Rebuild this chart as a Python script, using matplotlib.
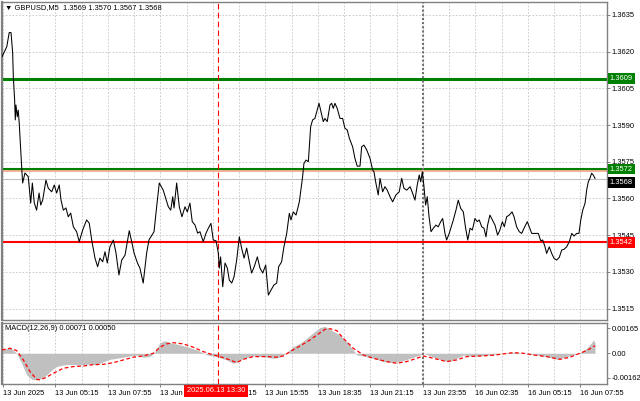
import numpy as np
import matplotlib.pyplot as plt
from matplotlib.transforms import blended_transform_factory

plt.rcParams['font.family'] = ['Liberation Sans', 'DejaVu Sans']
FS = 5.4

# close prices, x = bar number (M5 bars from the left edge)
price_bar = [
    -0.6, 2.3, 3.8, 4.9, 5.9, 6.3, 7.1, 7.5, 7.9, 8.7, 9.3, 9.9, 10.8, 11.6, 12.0, 13.4, 15.4,
    16.9, 17.9, 19.1, 20.5, 22.0, 23.0, 24.2, 26.2, 27.6, 29.7, 31.3, 32.7, 34.3, 35.4, 36.8,
    38.4, 39.8, 41.3, 42.9, 44.9, 46.5, 48.6, 51.0, 52.6, 54.1, 56.1, 57.7, 59.1, 60.8, 62.2,
    63.6, 65.2, 67.3, 68.9, 70.7, 72.4, 74.4, 77.0, 78.5, 79.9, 82.0, 83.5, 85.5, 87.6, 89.0,
    92.1, 93.7, 95.3, 97.7, 100.8, 102.3, 103.5, 104.3, 105.9, 107.5, 109.1, 111.0, 112.4,
    114.0, 115.4, 117.1, 118.7, 120.1, 122.1, 123.8, 125.2, 126.8, 128.2, 129.9, 131.3, 131.9,
    132.7, 134.0, 135.4, 136.8, 138.0, 139.5, 140.9, 142.5, 144.1, 145.5, 147.0, 148.6, 150.0,
    151.6, 153.2, 155.1, 156.7, 158.4, 160.2, 161.8, 163.4, 165.2, 166.9, 168.1, 169.9, 171.3,
    173.0, 174.6, 175.6, 177.0, 178.7, 180.7,
    182.7, 183.5, 184.8, 186.2, 187.6, 188.8, 190.2, 191.6, 192.7, 193.9, 195.3, 196.3, 197.7,
    199.4, 200.4, 201.4, 202.4, 203.8, 205.5, 207.1, 208.5, 209.9, 211.2, 213.2, 214.6, 216.0,
    217.7, 218.7, 220.1, 221.8, 223.8, 225.4, 226.2, 227.4, 228.8, 229.9, 231.5, 232.9, 234.3,
    236.0, 237.6, 239.6, 241.6, 243.1, 244.5, 246.2, 248.2, 249.8, 251.2, 252.6, 253.8, 254.7,
    255.7, 256.7, 257.7, 258.7, 259.8, 261.0, 262.4, 264.0, 265.4, 266.9, 268.1, 269.5, 270.5,
    272.1,
    274.6, 276.2, 277.6, 279.1, 280.7, 282.1, 283.4, 284.8, 286.2, 287.8, 289.2, 290.4, 291.9,
    293.3, 294.5, 295.5, 296.9, 298.4, 300.0, 301.6, 303.0, 304.5, 305.7, 307.1, 308.7, 310.4,
    311.6, 313.2, 314.8, 316.3, 317.7, 319.7, 320.9, 322.4, 324.4, 326.4, 327.9, 329.1, 330.5,
    331.5, 333.1, 334.6, 336.0, 337.6, 339.2, 340.7, 342.1, 343.7, 345.3, 346.8, 348.2, 349.8,
    351.2, 352.3, 353.5, 354.9, 355.9, 356.9, 357.9, 358.9, 359.9, 361.0,
]
price_close = [
    1.36179, 1.36220, 1.36278, 1.36278, 1.36195, 1.36098, 1.36002, 1.35921, 1.35982, 1.35934,
    1.35961, 1.35908, 1.35798, 1.35704, 1.35663, 1.35704, 1.35689, 1.35581, 1.35663, 1.35581,
    1.35552, 1.35622, 1.35573, 1.35593, 1.35675, 1.35642, 1.35627, 1.35655, 1.35622, 1.35655,
    1.35593, 1.35552, 1.35561, 1.35525, 1.35540, 1.35484, 1.35464, 1.35423, 1.35471, 1.35512,
    1.35499, 1.35430, 1.35356, 1.35321, 1.35356, 1.35341, 1.35382, 1.35336, 1.35402, 1.35430,
    1.35377, 1.35287, 1.35348, 1.35368, 1.35468, 1.35423, 1.35377, 1.35336, 1.35315, 1.35254,
    1.35377, 1.35430,
    1.35464, 1.35566, 1.35663, 1.35634, 1.35566, 1.35552, 1.35607, 1.35561, 1.35663, 1.35566,
    1.35525, 1.35566, 1.35545, 1.35581, 1.35505, 1.35491, 1.35458, 1.35464, 1.35423, 1.35458,
    1.35478, 1.35498, 1.35430, 1.35427, 1.35377, 1.35315, 1.35361, 1.35239, 1.35336, 1.35315,
    1.35266, 1.35254, 1.35280, 1.35348, 1.35443, 1.35397, 1.35356, 1.35397, 1.35348, 1.35295,
    1.35321, 1.35361, 1.35315, 1.35295, 1.35328, 1.35205, 1.35225, 1.35246, 1.35254, 1.35321,
    1.35341, 1.35402, 1.35457, 1.35539, 1.35512, 1.35545, 1.35532, 1.35586,
    1.35689, 1.35743, 1.35757, 1.35750, 1.35893, 1.35921, 1.35927, 1.35961, 1.35989, 1.35955,
    1.35914, 1.35927, 1.35914, 1.35982, 1.35989, 1.35968, 1.35989, 1.35968, 1.35927, 1.35927,
    1.35887, 1.35880, 1.35846, 1.35811, 1.35764, 1.35732, 1.35732, 1.35811, 1.35818, 1.35798,
    1.35764, 1.35716, 1.35709, 1.35662, 1.35614, 1.35682, 1.35627, 1.35648, 1.35634, 1.35607,
    1.35586, 1.35614, 1.35627, 1.35682, 1.35641, 1.35634, 1.35648, 1.35621, 1.35593, 1.35655,
    1.35696, 1.35668, 1.35709, 1.35648, 1.35573, 1.35607, 1.35525, 1.35464, 1.35478, 1.35491,
    1.35484, 1.35505, 1.35518, 1.35457, 1.35430, 1.35457,
    1.35512, 1.35552, 1.35593, 1.35559, 1.35545, 1.35478, 1.35430, 1.35478, 1.35471, 1.35518,
    1.35505, 1.35512, 1.35484, 1.35478, 1.35443, 1.35491, 1.35532, 1.35512, 1.35491, 1.35450,
    1.35471, 1.35505, 1.35484, 1.35525, 1.35532, 1.35545, 1.35525, 1.35484, 1.35464, 1.35457,
    1.35478, 1.35505, 1.35484, 1.35457, 1.35457, 1.35457, 1.35427, 1.35430, 1.35402, 1.35375,
    1.35402, 1.35375, 1.35355, 1.35348, 1.35359, 1.35389, 1.35392, 1.35402, 1.35423, 1.35457,
    1.35446, 1.35457, 1.35457, 1.35512, 1.35552, 1.35580, 1.35634, 1.35668, 1.35682, 1.35703,
    1.35696, 1.35682,
]

# MACD histogram
macd_bar = [
    -0.6, 4.3, 8.3, 11.4, 14.5, 17.5, 20.5, 23.6, 26.6, 29.7, 32.7, 36.8, 40.9, 47.0, 53.0,
    57.1, 61.2, 65.2, 69.3, 73.4, 77.4, 81.5, 85.5, 89.6, 92.7, 95.7, 98.8, 101.8, 105.9,
    112.0, 118.1, 122.1, 124.2, 130.3, 136.4, 140.4, 143.5, 146.5, 152.6, 158.7, 164.8, 168.9,
    173.0, 177.0, 181.1, 185.2, 189.2, 193.3, 196.3, 199.4, 205.5, 209.6, 213.6, 215.7, 219.7,
    225.8, 231.9, 238.0, 244.1, 250.2, 254.3, 256.3, 262.4, 268.5, 272.6, 276.6, 280.7, 284.8,
    290.9, 297.0, 303.0, 309.1, 313.2, 319.3, 325.4, 331.5, 337.6, 341.7, 347.7, 351.8, 355.9,
    358.9, 359.9, 361.0,
]
macd_hist = [
    0.00022, 0.00040, 0.0, -0.00066, -0.00143, -0.00172, -0.00176, -0.00165, -0.00143, -0.00110,
    -0.00088, -0.00077, -0.00073, -0.00077, -0.00071, -0.00077, -0.00055, -0.00040, -0.00033,
    -0.00026, -0.00018, -0.00013, -0.00026, -0.00022, 0.00011, 0.00070, 0.00083, 0.00070,
    0.00061, 0.00044, 0.00022, 0.00004, -0.00011, -0.00022, -0.00044, -0.00066, -0.00055,
    -0.00033, -0.00018, -0.00022, -0.00033, -0.00026, 0.00004, 0.00044, 0.00066, 0.00099,
    0.00136, 0.00170, 0.00178, 0.00158, 0.00120, 0.00077, 0.00022, -0.00011, -0.00018, -0.00033,
    -0.00055, -0.00062, -0.00049, -0.00026, -0.00011, 0.0, -0.00026, -0.00049, -0.00055,
    -0.00033, -0.00011, -0.00018, -0.00018, -0.00011, -0.00004, 0.00007, 0.00007, -0.00004,
    -0.00011, -0.00022, -0.00040, -0.00029, -0.00011, 0.00004, 0.00033, 0.00070, 0.00088,
    0.00071,
]

# MACD signal line
signal_bar = [
    -0.6, 4.3, 8.3, 12.4, 16.5, 20.5, 22.6, 26.6, 30.7, 36.8, 42.9, 49.0, 55.1, 61.2, 67.3,
    73.4, 79.5, 85.5, 91.7, 95.7, 99.8, 103.9, 109.9, 116.0, 122.1, 128.2, 132.3, 138.4, 142.5,
    146.5, 152.6, 160.8, 166.9, 170.9, 175.0, 181.1, 187.2, 193.3, 196.3, 199.4, 203.5, 207.5,
    213.6, 219.7, 225.8, 234.0, 240.1, 246.2, 252.3, 256.3, 262.4, 270.5, 276.6, 282.7, 290.9,
    299.0, 305.1, 311.2, 317.3, 323.4, 331.5, 339.6, 345.7, 351.8, 355.9, 361.0,
]
signal_vals = [
    0.00022, 0.00033, 0.00018, -0.00044, -0.00121, -0.00172, -0.00176, -0.00158, -0.00132,
    -0.00099, -0.00088, -0.00084, -0.00075, -0.00073, -0.00062, -0.00044, -0.00026, -0.00018,
    0.0, 0.00040, 0.00062, 0.00070, 0.00062, 0.00040, 0.00011, -0.00011, -0.00022, -0.00044,
    -0.00062, -0.00040, -0.00022, -0.00022, -0.00026, -0.00018, 0.00011, 0.00048, 0.00088,
    0.00135, 0.00158, 0.00162, 0.00150, 0.00099, 0.00033, -0.00011, -0.00033, -0.00055,
    -0.00066, -0.00055, -0.00033, -0.00018, -0.00033, -0.00055, -0.00044, -0.00022, -0.00018,
    -0.00013, -0.00004, 0.00004, 0.0, -0.00011, -0.00022, -0.00040, -0.00026, 0.0, 0.00018,
    0.00050,
]

price_ticks = [1.3515, 1.3530, 1.3545, 1.3560, 1.3575, 1.3590, 1.3605, 1.3620, 1.3635]
macd_ticks = [0.00165, 0.0, -0.00162]
macd_tick_labels = ['0.00165', '0.00', '-0.00162']
time_bars = [0, 32, 64, 96, 128, 160, 192, 224, 256, 288, 320, 352]
time_labels = ['13 Jun 2025', '13 Jun 05:15', '13 Jun 07:55', '13 Jun 10:35', '13 Jun 13:15',
               '13 Jun 15:55', '13 Jun 18:35', '13 Jun 21:15', '13 Jun 23:55', '16 Jun 02:35',
               '16 Jun 05:15', '16 Jun 07:55']
grid_bars = list(range(0, 369, 16))
cursor_bar = 131
separator_bar = 256

# horizontal levels: (price, colour, width, label box colour)
levels = [(1.3609, '#008000', 2.2, '#008000'),
          (1.35714, '#f4b096', 1.4, None),
          (1.3572, '#008000', 1.5, '#008000'),
          (1.3542, '#ff0000', 1.5, '#ff0000')]
bid = 1.3568

W, H = 640, 401
fig = plt.figure(figsize=(6.4, 4.01), dpi=100)


def box(l, t, r, b):
    return [l / W, 1 - b / H, (r - l) / W, (b - t) / H]


ax = fig.add_axes(box(2, 2, 607, 320))
axm = fig.add_axes(box(2, 323, 607, 384))
frame = '#808080'
grid_kw = dict(color='#c4c4c4', ls=(0, (2, 2)), lw=0.6)

for a in (ax, axm):
    a.set_xlim(-0.6, 368.3)
    for s in a.spines.values():
        s.set_color(frame)
        s.set_linewidth(1.0)
    a.spines['left'].set_linewidth(1.6)
    a.yaxis.tick_right()
    a.tick_params(axis='y', direction='out', length=2.5, width=0.7, color=frame,
                  labelsize=FS, pad=0.8)
    a.axvline(cursor_bar, color='red', ls=(0, (5, 3)), lw=0.8, zorder=3)
    a.axvline(separator_bar, color='#707070', ls=(0, (1, 1)), lw=1.5, zorder=3)

# price panel
ax.set_ylim(1.35103, 1.36403)
ax.set_yticks(price_ticks)
ax.set_yticklabels(['%.4f' % p for p in price_ticks])
ax.set_xticks(grid_bars)
ax.tick_params(axis='x', length=0, labelbottom=False)
ax.grid(True, **grid_kw)
ax.set_axisbelow(True)

ax.axhline(bid, color='#c0c0c0', lw=0.8, zorder=2)
for p, c, w, bc in levels:
    ax.axhline(p, color=c, lw=w, zorder=2)
ax.plot(price_bar, price_close, color='black', lw=0.75, zorder=4)

tr = blended_transform_factory(ax.transAxes, ax.transData)
for p, c, w, bc in levels:
    if bc:
        ax.text(1.0045, p, '%.4f' % p, transform=tr, color='white', fontsize=FS, va='center',
                ha='left', clip_on=False, zorder=6,
                bbox=dict(facecolor=bc, edgecolor='none', pad=1.3))
ax.text(1.0045, bid - 0.00016, '%.4f' % bid, transform=tr, color='white', fontsize=FS,
        va='center', ha='left', clip_on=False, zorder=6,
        bbox=dict(facecolor='black', edgecolor='none', pad=1.3))

# MACD panel
axm.fill_between(macd_bar, macd_hist, 0, color='#c0c0c0', lw=0, zorder=2)
axm.plot(signal_bar, signal_vals, color='red', ls=(0, (3, 2)), lw=0.9, zorder=4)
axm.set_ylim(-0.00203, 0.0020)
axm.set_yticks(macd_ticks)
axm.set_yticklabels(macd_tick_labels)
axm.set_xticks(time_bars)
axm.set_xticklabels(time_labels, ha='left')
axm.set_xticks(grid_bars, minor=True)
axm.tick_params(axis='x', which='major', direction='out', length=2.5, width=0.7,
                color=frame, labelsize=FS, pad=1.5)
axm.tick_params(axis='x', which='minor', length=0)
axm.grid(True, axis='x', which='both', **grid_kw)
axm.set_axisbelow(True)

fig.text(5 / W, 1 - 8 / H, '\u25bc GBPUSD,M5  1.3569 1.3570 1.3567 1.3568',
         fontsize=FS, va='center', ha='left')
fig.text(5 / W, 1 - 329 / H, 'MACD(12,26,9) 0.00071 0.00050', fontsize=FS,
         va='center', ha='left')
# cursor time box, covers the axis labels beneath it as in the terminal
fig.text(216 / W, 1 - 391 / H, '2025.06.13 13:30', fontsize=FS, color='white',
         va='center', ha='center', zorder=10,
         bbox=dict(facecolor='red', edgecolor='none', pad=1.8))

fig.savefig('out.png', dpi=100, facecolor='white')
